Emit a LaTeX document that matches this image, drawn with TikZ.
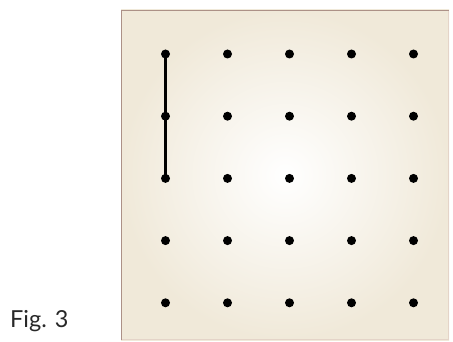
\documentclass[tikz,border=0pt]{standalone}
\usepackage{fontspec}
\setmainfont{Lato}
\usetikzlibrary{positioning}
\definecolor{paper}{RGB}{240,233,217}
\definecolor{frame}{RGB}{172,145,135}
\definecolor{framelight}{RGB}{228,212,200}
\definecolor{labeltext}{RGB}{40,40,40}
\tikzset{
  gridbox/.style={inner color=white, outer color=paper},
  griddot/.style={circle, fill=black, inner sep=0pt, minimum size=0.27cm},
  gridline/.style={draw=black, line width=2pt},
  figlabel/.style={font=\fontsize{20}{22}\selectfont, text=labeltext, anchor=base west, inner sep=0pt}
}
\begin{document}
\begin{tikzpicture}[x=0.03cm, y=-0.03cm]
  \useasboundingbox (0,0) rectangle (453,342);
  \path[gridbox] (121,10) rectangle (449,340);
  \draw[framelight, line width=0.8pt] (121,339.5) -- (448.5,339.5) -- (448.5,10);
  \draw[frame, line width=1.2pt] (121.5,340) -- (121.5,10.5) -- (449,10.5);
  \foreach \i in {1,...,5}
    \foreach \j in {1,...,5}
      \node[griddot] (d-\i-\j) at ({165.5+62*(\i-1)},{54+62.2*(\j-1)}) {};
  \draw[gridline] (d-1-1.center) -- (d-1-2.center) -- (d-1-3.center);
  \node[figlabel] (fig) at (10,327) {Fig. 3};
\end{tikzpicture}
\end{document}
